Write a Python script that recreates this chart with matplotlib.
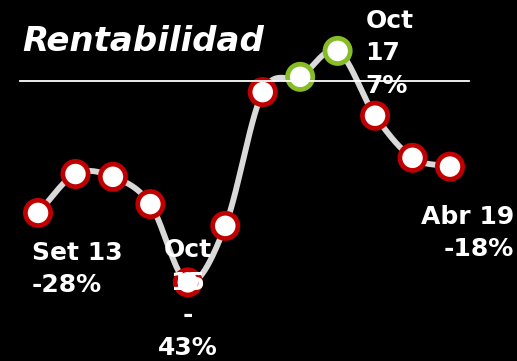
"""
Rentabilidad semestral: línea suavizada con marcadores
"""
import numpy as np
import matplotlib
matplotlib.use('Agg')
import matplotlib.pyplot as plt

# Datos
periodos = ['Set 13', 'Mar 14', 'Set 14', 'Mar 15', 'Oct 15', 'Mar 16',
            'Set 16', 'Mar 17', 'Oct 17', 'Mar 18', 'Set 18', 'Abr 19']
rentabilidad = [-28, -19.6, -20.2, -26.1, -43, -30.8,
                -1.9, 1.4, 7, -7.0, -16.1, -18]
destacados = [7, 8]  # puntos en verde

ROJO = '#c00000'
VERDE = '#86bc25'
GRIS = '#d9d9d9'


def catmull_rom(x, y, n=30):
    """Curva suave que pasa por todos los puntos (como la línea suavizada de Excel)"""
    x = np.asarray(x, float)
    y = np.asarray(y, float)
    px = np.concatenate([[2 * x[0] - x[1]], x, [2 * x[-1] - x[-2]]])
    py = np.concatenate([[2 * y[0] - y[1]], y, [2 * y[-1] - y[-2]]])
    t = np.linspace(0, 1, n)
    xs, ys = [], []
    for i in range(1, len(px) - 2):
        for p, out in ((px, xs), (py, ys)):
            p0, p1, p2, p3 = p[i - 1], p[i], p[i + 1], p[i + 2]
            out.append(0.5 * ((2 * p1) + (-p0 + p2) * t
                              + (2 * p0 - 5 * p1 + 4 * p2 - p3) * t ** 2
                              + (-p0 + 3 * p1 - 3 * p2 + p3) * t ** 3))
    return np.concatenate(xs), np.concatenate(ys)


fig = plt.figure(figsize=(5.17, 3.61), dpi=100, facecolor='black')
ax = fig.add_axes([0, 0, 1, 1])
ax.set_facecolor('black')
ax.set_xlim(-1.015, 12.79)
ax.set_ylim(-60.0, 18.0)
ax.axis('off')

x = np.arange(len(rentabilidad))
cx, cy = catmull_rom(x, rentabilidad)
ax.plot(cx, cy, color=GRIS, linewidth=4.2, solid_capstyle='round', zorder=2)

bordes = [VERDE if i in destacados else ROJO for i in x]
ax.scatter(x, rentabilidad, s=330, facecolor='white', edgecolor=bordes,
           linewidth=3.4, zorder=3)

# Título y línea separadora
fig.text(0.044, 0.885, 'Rentabilidad', color='white', fontsize=24.5,
         fontweight='bold', fontstyle='italic', va='center', ha='left')
fig.add_artist(plt.Line2D([0.039, 0.907], [0.776, 0.776], color='white',
                          linewidth=1.3, transform=fig.transFigure))

# Etiquetas de los puntos clave
estilo = dict(color='white', fontsize=18, fontweight='bold',
              textcoords='offset pixels', linespacing=1.45, zorder=4)
ax.annotate(f'{periodos[0]}\n{rentabilidad[0]:.0f}%', (0, rentabilidad[0]),
            xytext=(-6, -28), ha='left', va='top', **estilo)
ax.annotate('Oct\n15\n-\n43%', (4, rentabilidad[4]),
            xytext=(0, 44), ha='center', va='top', **estilo)
ax.annotate(f'Oct\n17\n{rentabilidad[8]:.0f}%', (8, rentabilidad[8]),
            xytext=(28, 42), ha='left', va='top', **estilo)
ax.annotate(f'{periodos[11]}\n{rentabilidad[11]:.0f}%', (11, rentabilidad[11]),
            xytext=(64, -38), ha='right', va='top', **estilo)

fig.savefig('out.png', dpi=100, facecolor='black')
